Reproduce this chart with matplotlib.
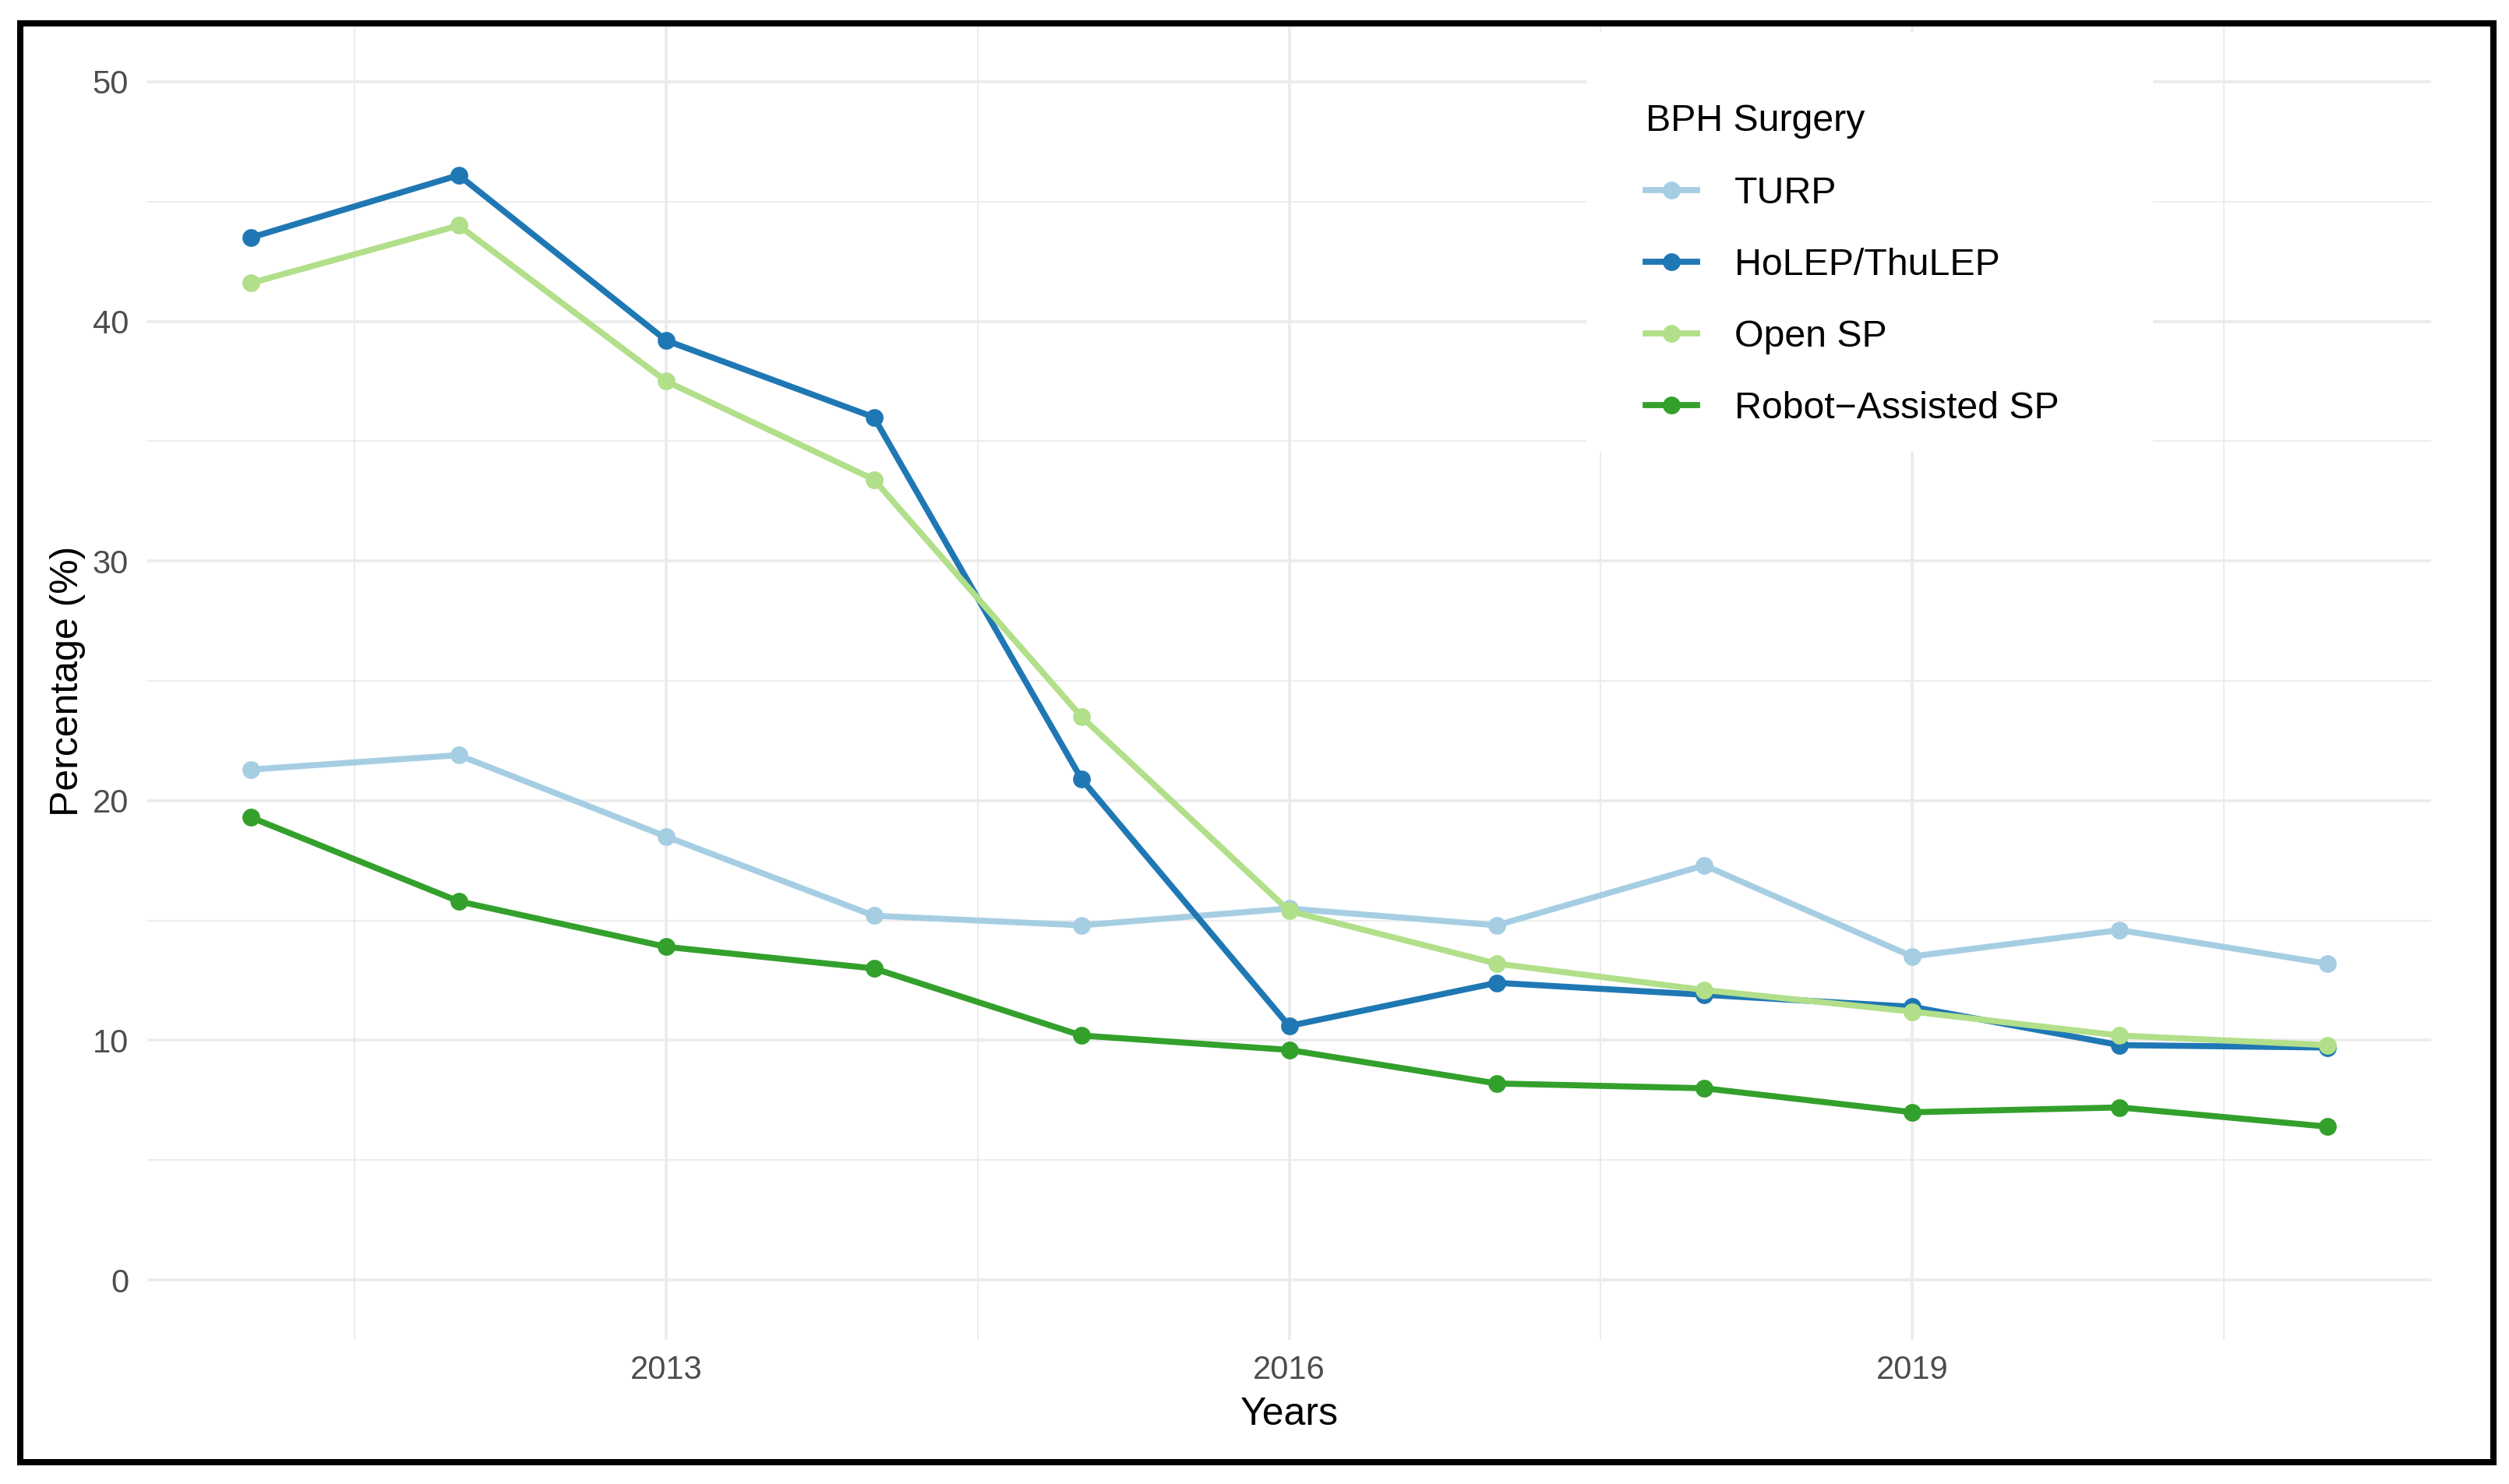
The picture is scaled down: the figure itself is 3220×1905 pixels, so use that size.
import matplotlib
matplotlib.use("Agg")
import matplotlib.pyplot as plt
from matplotlib.patches import Rectangle
from matplotlib.lines import Line2D

years = [2011, 2012, 2013, 2014, 2015, 2016, 2017, 2018, 2019, 2020, 2021]
turp = [21.3, 21.9, 18.5, 15.2, 14.8, 15.5, 14.8, 17.3, 13.5, 14.6, 13.2]
holep = [43.5, 46.1, 39.2, 36.0, 20.9, 10.6, 12.4, 11.9, 11.4, 9.8, 9.7]
open_sp = [41.6, 44.0, 37.5, 33.4, 23.5, 15.4, 13.2, 12.1, 11.2, 10.2, 9.8]
robot = [19.3, 15.8, 13.9, 13.0, 10.2, 9.6, 8.2, 8.0, 7.0, 7.2, 6.4]

series_names = ["TURP", "HoLEP/ThuLEP", "Open SP", "Robot\u2212Assisted SP"]
series_values = [turp, holep, open_sp, robot]
colors = ["#A6CEE3", "#1F78B4", "#B2DF8A", "#33A02C"]
x_ticks = [2013, 2016, 2019]
y_ticks = [0, 10, 20, 30, 40, 50]

plt.rcParams['font.family'] = ['Liberation Sans', 'DejaVu Sans']

W, H = 3220, 1905
DPI = 200
fig = plt.figure(figsize=(W / DPI, H / DPI), dpi=DPI)
fig.patch.set_facecolor("white")

# axes placement in pixels
left, right, top, bottom = 189, 3120, 28, 1720
ax = fig.add_axes([left / W, (H - bottom) / H, (right - left) / W, (bottom - top) / H])
ax.set_facecolor("white")

LW, MS = 2.8, 7.2
for name, vals, c in zip(series_names, series_values, colors):
    ax.plot(years, vals, color=c, lw=LW, marker="o", ms=MS, mec=c, mfc=c,
            label=name, zorder=3, solid_capstyle="round", solid_joinstyle="round")

ax.set_xlim(2010.5, 2021.5)
ax.set_ylim(-2.5, 52.5)
ax.set_xticks(x_ticks)
ax.set_yticks(y_ticks)
ax.set_xticks([2011.5, 2014.5, 2017.5, 2020.5], minor=True)
ax.set_yticks([5, 15, 25, 35, 45], minor=True)

ax.grid(True, which="major", color="#EBEBEB", lw=1.3, zorder=0)
ax.grid(True, which="minor", color="#EBEBEB", lw=0.65, zorder=0)
ax.set_axisbelow(True)
for s in ax.spines.values():
    s.set_visible(False)
ax.tick_params(which="both", length=0)
ax.tick_params(axis="y", pad=8.6, labelsize=15, labelcolor="#4D4D4D")
ax.tick_params(axis="x", pad=7.0, labelsize=15, labelcolor="#4D4D4D")

ax.set_xlabel("Years", fontsize=18, color="black", labelpad=5)
ax.set_ylabel("Percentage (%)", fontsize=18, color="black", labelpad=3)

# legend background box (covers gridlines)
lx0, lx1, ly0, ly1 = 2036, 2763, 41, 580
bg = Rectangle((lx0 / W, (H - ly1) / H), (lx1 - lx0) / W, (ly1 - ly0) / H,
               transform=fig.transFigure, facecolor="white", edgecolor="none", zorder=4)
ax.add_patch(bg)
bg.set_clip_on(False)

handles = [Line2D([0], [0], color=c, lw=LW, marker="o", ms=MS, mec=c, mfc=c)
           for c in colors]
leg = ax.legend(handles, series_names, title="BPH Surgery", loc="upper left",
                bbox_to_anchor=(2088 / W, (H - 109) / H), bbox_transform=fig.transFigure,
                frameon=False, fontsize=17.4, title_fontsize=17.4,
                handlelength=1.36, handletextpad=1.0, labelspacing=0.97,
                alignment="left", borderpad=0)
leg._legend_box.sep = 17.3
leg.set_zorder(5)

# outer black frame
frame = Rectangle((26 / W, (H - 1877) / H), (3200 - 26) / W, (1877 - 30) / H,
                  transform=fig.transFigure, facecolor="none", edgecolor="black",
                  lw=2.9, zorder=10)
fig.patches.append(frame)

fig.savefig("out.png", dpi=DPI, facecolor="white")
